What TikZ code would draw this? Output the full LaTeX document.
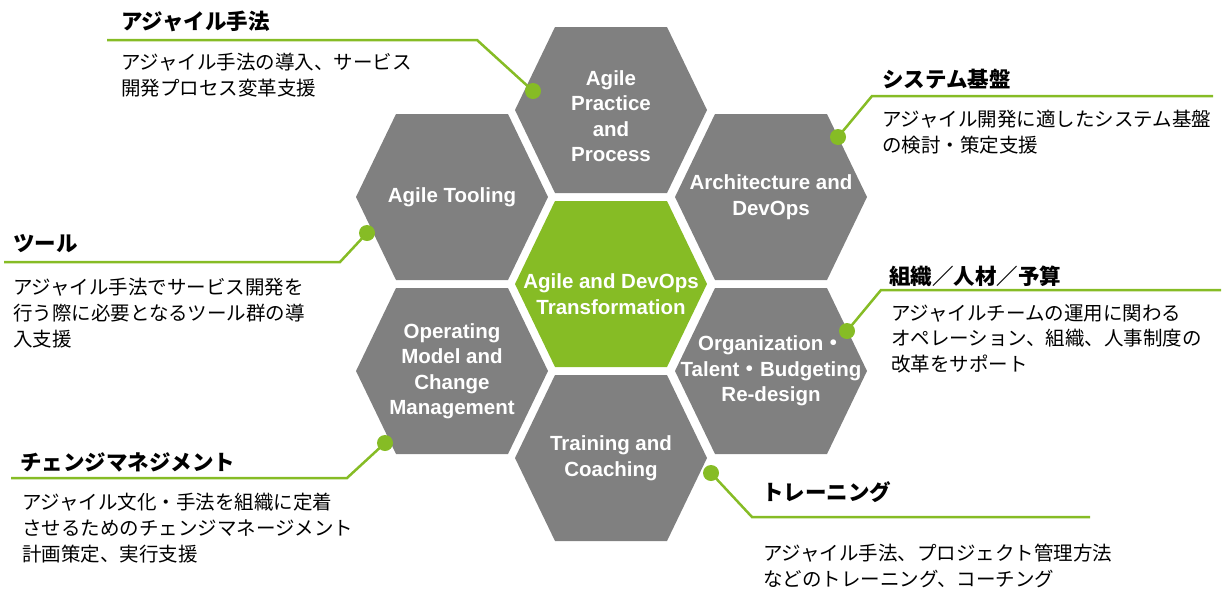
\documentclass[tikz,border=0pt]{standalone}
\usepackage{fontspec}
\setmainfont{Liberation Sans}
\newfontfamily\cjk{Noto Sans CJK JP}
\definecolor{hexgray}{HTML}{808080}
\definecolor{dgreen}{HTML}{86BC25}
\newcommand{\hx}[1]{\fill[#1] (-96,0) -- (-56,83) -- (56,83) -- (96,0) -- (56,-83) -- (-56,-83) -- cycle;}

\begin{document}
\begin{tikzpicture}[x=1pt,y=-1pt,
  hexlabel/.style={text=white,font=\bfseries\fontsize{20.5}{25.5}\selectfont,align=center,inner sep=0pt},
  dot/.style={circle,fill=dgreen,minimum size=16pt,inner sep=0pt},
  leader/.style={draw=dgreen,line width=2.5pt},
  title/.style={anchor=west,inner sep=0pt,font=\cjk\bfseries\fontsize{21.5}{25}\selectfont},
  desc/.style={anchor=north west,inner sep=0pt,align=left,font=\cjk\fontsize{19.5}{25.8}\selectfont}]
  \useasboundingbox (0,0) rectangle (1223,590);
  \begin{scope}[shift={(611,110)}] \hx{hexgray} \node[hexlabel,yshift=-6pt] (practice) {Agile\\Practice\\and\\Process}; \end{scope}
  \begin{scope}[shift={(452,197)}] \hx{hexgray} \node[hexlabel] (tooling) {Agile Tooling}; \end{scope}
  \begin{scope}[shift={(771,197)}] \hx{hexgray} \node[hexlabel] (arch) {Architecture and\\DevOps}; \end{scope}
  \begin{scope}[shift={(611,284)}] \hx{dgreen}  \node[hexlabel,yshift=-10pt] (core) {Agile and DevOps\\Transformation}; \end{scope}
  \begin{scope}[shift={(452,371)}] \hx{hexgray} \node[hexlabel] (operating) {Operating\\Model and\\Change\\Management}; \end{scope}
  \begin{scope}[shift={(771,371)}] \hx{hexgray} \node[hexlabel] (org) {Organization{\cjk ・}\\Talent{\cjk ・}Budgeting\\Re-design}; \end{scope}
  \begin{scope}[shift={(611,458)}] \hx{hexgray} \node[hexlabel] (training) {Training and\\Coaching}; \end{scope}

  \node[dot] (d1) at (533,91) {};  \coordinate (e1) at (477,40);  \coordinate (f1) at (107,40);
  \node[dot] (d2) at (838,137) {}; \coordinate (e2) at (872,96);  \coordinate (f2) at (1213,96);
  \node[dot] (d3) at (367,233) {}; \coordinate (e3) at (340,262); \coordinate (f3) at (4,262);
  \node[dot] (d4) at (847,331) {}; \coordinate (e4) at (881,290); \coordinate (f4) at (1221,290);
  \node[dot] (d5) at (385,443) {}; \coordinate (e5) at (347,478); \coordinate (f5) at (11,478);
  \node[dot] (d6) at (711,473) {}; \coordinate (e6) at (752,517); \coordinate (f6) at (1090,517);
  \foreach \i in {1,...,6} {\draw[leader] (d\i.center) -- (e\i) -- (f\i);}

  \node[title] (t1) at (121,21)  {アジャイル手法};
  \node[title] (t2) at (882,79)  {システム基盤};
  \node[title] (t3) at (13,244)  {ツール};
  \node[title] (t4) at (889,276) {組織／人材／予算};
  \node[title] (t5) at (20,462)  {チェンジマネジメント};
  \node[title] (t6) at (762,492) {トレーニング};

  \node[desc] (s1) at (121,53)  {アジャイル手法の導入、サービス\\開発プロセス変革支援};
  \node[desc] (s2) at (882,110) {アジャイル開発に適したシステム基盤\\の検討・策定支援};
  \node[desc] (s3) at (13,278)  {アジャイル手法でサービス開発を\\行う際に必要となるツール群の導\\入支援};
  \node[desc] (s4) at (891,304) {アジャイルチームの運用に関わる\\オペレーション、組織、人事制度の\\改革をサポート};
  \node[desc] (s5) at (22,493)  {アジャイル文化・手法を組織に定着\\させるためのチェンジマネージメント\\計画策定、実行支援};
  \node[desc] (s6) at (763,544) {アジャイル手法、プロジェクト管理方法\\などのトレーニング、コーチング};
\end{tikzpicture}
\end{document}
